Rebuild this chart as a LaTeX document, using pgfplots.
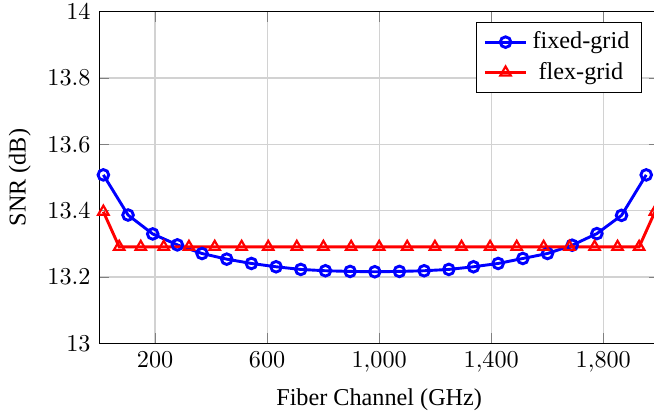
\documentclass[border=0pt]{standalone}
\usepackage{pgfplots}
\pgfplotsset{compat=1.18}
\usepackage{fontspec}
\setmainfont{Liberation Serif}

\pgfplotstableread{
x y
15.5 13.508
103.6 13.387
191.7 13.330
279.7 13.297
367.8 13.271
455.9 13.254
544.0 13.241
632.0 13.231
720.1 13.223
808.2 13.219
896.3 13.217
984.4 13.216
1072.4 13.217
1160.5 13.219
1248.6 13.223
1336.7 13.231
1424.8 13.241
1512.9 13.256
1600.9 13.271
1689.0 13.296
1777.1 13.331
1865.2 13.386
1953.3 13.508
}\fixedgrid

\pgfplotstableread{
x y
15.5 13.397
72 13.291
149 13.291
231 13.291
321 13.291
413 13.291
509 13.291
604 13.291
706 13.291
801 13.291
900 13.291
1000 13.291
1100 13.291
1199 13.291
1294 13.291
1396 13.291
1491 13.291
1587 13.291
1679 13.291
1769 13.291
1851 13.291
1928 13.291
1984.5 13.397
}\flexgrid

\begin{document}
\begin{tikzpicture}
\begin{axis}[
  scale only axis,
  width=231.4pt, height=137pt,
  xmin=0, xmax=2000, ymin=13, ymax=14,
  xtick={200,600,1000,1400,1800},
  ytick={13,13.2,13.4,13.6,13.8,14},
  grid=major,
  grid style={gray!35, line width=0.5pt},
  xlabel={Fiber Channel (GHz)},
  ylabel={SNR (dB)},
  legend style={at={(0.969,0.970)}, anchor=north east, draw=black, fill=white},
  legend cell align=center,
]
\coordinate (sw) at (rel axis cs:0,0);
\coordinate (ne) at (rel axis cs:1,1);
\addplot[blue, very thick, mark=o, mark size=2.2pt, mark options={solid, line width=1.2pt}] table[x=x,y=y] {\fixedgrid};
\addlegendentry{fixed-grid}
\addplot[red, very thick, mark=triangle, mark size=2.5pt, mark options={solid, line width=0.9pt}] table[x=x,y=y] {\flexgrid};
\addlegendentry{flex-grid}
\end{axis}
\pgfresetboundingbox
\useasboundingbox ([xshift=-40.9pt,yshift=-29.2pt]sw) rectangle ([xshift=-2.19pt,yshift=4.83pt]ne);
\end{tikzpicture}
\end{document}
